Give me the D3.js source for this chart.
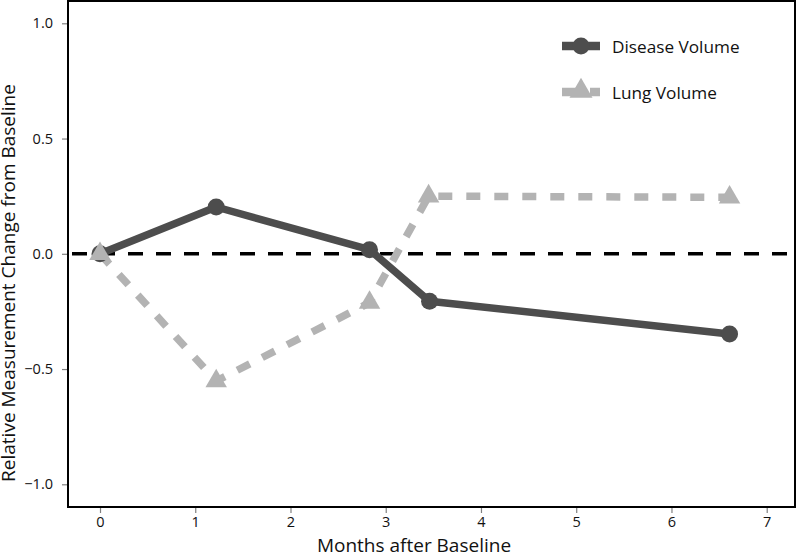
<!DOCTYPE html>
<html>
<head>
<meta charset="utf-8">
<script src="https://cdn.jsdelivr.net/npm/d3@7"></script>
<style>
  html, body { margin: 0; padding: 0; background: #fff; }
  svg { display: block; font-family: "Open Sans", "Noto Sans", sans-serif; }
</style>
</head>
<body>
<script>
// ---- data ----
const seriesNames = ["Disease Volume", "Lung Volume"];
const diseaseMonths = [0, 1.22, 2.83, 3.46, 6.61];
const diseaseValues = [0, 0.203, 0.018, -0.206, -0.348];
const lungMonths = [0, 1.22, 2.83, 3.45, 6.61];
const lungValues = [0, -0.552, -0.212, 0.25, 0.245];
const xTicks = [0, 1, 2, 3, 4, 5, 6, 7];
const yTicks = [-1.0, -0.5, 0.0, 0.5, 1.0];
const xTitle = "Months after Baseline";
const yTitle = "Relative Measurement Change from Baseline";

const W = 800, H = 555;
const darkCol = "#4d4d4d", lightCol = "#b3b3b3";

const svg = d3.select("body").append("svg").attr("width", W).attr("height", H);

const x = d3.scaleLinear().domain([-0.336, 7.297]).range([68, 795]);
const y = d3.scaleLinear().domain([-1.1, 1.1]).range([507.35, 0.25]);

// axes
const xAxis = svg.append("g").attr("transform", "translate(0,507)")
  .call(d3.axisBottom(x).tickValues(xTicks).tickFormat(d3.format("d")).tickSize(6).tickPadding(4));
const yAxis = svg.append("g").attr("transform", "translate(68,0)")
  .call(d3.axisLeft(y).tickValues(yTicks).tickFormat(d3.format(".1f")).tickSize(6).tickPadding(9));
[xAxis, yAxis].forEach(g => {
  g.select(".domain").remove();
  g.selectAll(".tick line").attr("stroke", "#808080").attr("stroke-width", 1.2);
  g.selectAll(".tick text").attr("fill", "#111").style("font-size", "14.5px")
    .style("font-family", "'Open Sans', sans-serif");
});

// frame
svg.append("rect").attr("x", 68).attr("y", 1).attr("width", 795 - 68).attr("height", 506)
  .attr("fill", "none").attr("stroke", "#000").attr("stroke-width", 2);

// zero reference line
svg.append("line")
  .attr("x1", x.range()[0] + 4).attr("x2", x.range()[1])
  .attr("y1", y(0)).attr("y2", y(0))
  .attr("stroke", "#000").attr("stroke-width", 3.5).attr("stroke-dasharray", "15,13");

const disease = diseaseMonths.map((m, i) => ({ m, v: diseaseValues[i] }));
const lung = lungMonths.map((m, i) => ({ m, v: lungValues[i] }));
const line = d3.line().x(d => x(d.m)).y(d => y(d.v));

svg.append("path").datum(disease).attr("d", line)
  .attr("fill", "none").attr("stroke", darkCol).attr("stroke-width", 7.5).attr("stroke-linejoin", "round");
svg.append("path").datum(lung).attr("d", line)
  .attr("fill", "none").attr("stroke", lightCol).attr("stroke-width", 7.5)
  .attr("stroke-dasharray", "14,14");

svg.selectAll("circle.pt").data(disease).enter().append("circle")
  .attr("class", "pt").attr("cx", d => x(d.m)).attr("cy", d => y(d.v)).attr("r", 8.5).attr("fill", darkCol);

const tri = d3.symbol().type(d3.symbolTriangle).size(200);
svg.selectAll("path.tri").data(lung).enter().append("path")
  .attr("class", "tri").attr("d", tri)
  .attr("transform", d => `translate(${x(d.m)},${y(d.v)})`).attr("fill", lightCol);

// legend
const leg = svg.append("g");
const legY = [46, 92];
leg.append("line").attr("x1", 562).attr("x2", 600).attr("y1", legY[0]).attr("y2", legY[0])
  .attr("stroke", darkCol).attr("stroke-width", 8.5);
leg.append("circle").attr("cx", 581).attr("cy", legY[0]).attr("r", 8.5).attr("fill", darkCol);
leg.append("line").attr("x1", 562).attr("x2", 600).attr("y1", legY[1]).attr("y2", legY[1])
  .attr("stroke", lightCol).attr("stroke-width", 8.5).attr("stroke-dasharray", "14,14");
leg.append("path").attr("d", d3.symbol().type(d3.symbolTriangle).size(230))
  .attr("transform", `translate(581,${legY[1] - 1})`).attr("fill", lightCol);
leg.selectAll("text").data(seriesNames).enter().append("text")
  .attr("x", 612).attr("y", (d, i) => legY[i] + 7)
  .style("font-size", "17.2px").attr("fill", "#111").text(d => d);

// axis titles
svg.append("text").attr("x", 414).attr("y", 552).attr("text-anchor", "middle")
  .style("font-size", "19px").attr("fill", "#111").text(xTitle);
svg.append("text").attr("transform", "translate(15,283) rotate(-90)").attr("text-anchor", "middle")
  .style("font-size", "19px").attr("fill", "#111").text(yTitle);
</script>
</body>
</html>
